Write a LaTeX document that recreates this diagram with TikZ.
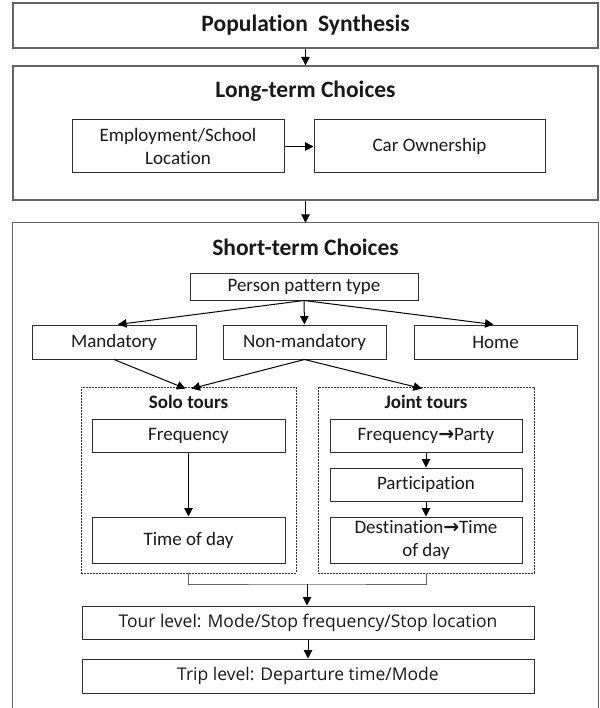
\documentclass[tikz,border=0pt]{standalone}
\usepackage{fontspec}
\setmainfont{Carlito}[Ligatures=NoCommon]
\newfontfamily\osans{Open Sans}
\newfontfamily\arrowfont{DejaVu Sans}
\usetikzlibrary{arrows.meta}
\definecolor{outergray}{RGB}{100,100,100}
\definecolor{boxgray}{RGB}{45,45,45}
\definecolor{txt}{RGB}{25,25,25}
\newcommand{\bodyf}{\fontsize{19}{23}\selectfont}
\newcommand{\titlef}{\fontsize{23.5}{27}\selectfont\bfseries}
\newcommand{\subf}{\fontsize{19}{23}\selectfont\bfseries}
\newcommand{\lowf}{\osans\fontsize{17.5}{21}\selectfont}
\tikzset{
  outerbox/.style={draw=outergray, line width=1.3pt, inner sep=0pt, text=txt},
  outerline/.style={draw=outergray, line width=1.3pt},
  ghost/.style={inner sep=0pt},
  box/.style={draw=boxgray, line width=1pt, inner sep=0pt, align=center, font=\bodyf, text=txt},
  lowbox/.style={box, font=\lowf},
  dotbox/.style={draw=boxgray, line width=0.8pt, dash pattern=on 2pt off 1pt, inner sep=0pt},
  ttl/.style={inner sep=0pt, font=\titlef, text=txt},
  subttl/.style={inner sep=0pt, font=\subf, text=txt},
  arr/.style={draw=black, line width=1pt, -{Triangle[length=8.5pt,width=8.5pt]}},
  plainline/.style={draw=outergray, line width=1pt},
}
\begin{document}
\begin{tikzpicture}[x=1pt,y=-1pt]
\useasboundingbox[fill=white] (0,0) rectangle (599,708);

% outer boxes
\node[outerbox, font=\titlef, minimum width=585pt, minimum height=45pt] (pop) at (305.5,25.5) {Population\hspace{5pt} Synthesis};
\node[outerbox, minimum width=585pt, minimum height=134pt] (long) at (305.5,133) {};
\node[ttl] (longt) at (305.5,91) {Long-term Choices};
\node[ghost, minimum width=585pt, minimum height=485pt] (short) at (305.5,465.5) {};
\draw[outerline] (short.south west) -- (short.north west) -- (short.north east) -- (short.south east);
\node[ttl] (shortt) at (305.5,247) {Short-term Choices};

% long-term
\node[box, minimum width=212pt, minimum height=53pt] (emp) at (178,146.5) {Employment/School\\Location};
\node[box, minimum width=231pt, minimum height=53pt] (car) at (429.5,146.5) {Car Ownership};

% short-term
\node[box, minimum width=228pt, minimum height=27pt] (person) at (304,286.5) {Person pattern type};
\node[box, minimum width=164pt, minimum height=34pt] (mand) at (114,342) {Mandatory};
\node[box, minimum width=163pt, minimum height=34pt] (nonm) at (304.5,342) {Non-mandatory};
\node[box, minimum width=163pt, minimum height=34pt] (home) at (495.5,342) {Home};

\node[dotbox, minimum width=215pt, minimum height=186pt] (solo) at (188.5,480) {};
\node[dotbox, minimum width=216pt, minimum height=186pt] (joint) at (426,480) {};
\node[subttl] (solot) at (188.5,402) {Solo tours};
\node[subttl] (jointt) at (426,402) {Joint tours};

\node[box, minimum width=193pt, minimum height=33pt] (sfreq) at (188.5,435.5) {Frequency};
\node[box, minimum width=193pt, minimum height=46pt] (stod) at (188.5,540) {Time of day};
\node[box, minimum width=192pt, minimum height=33pt] (jfreq) at (426,435.5) {Frequency{\arrowfont\bfseries →}Party};
\node[box, minimum width=192pt, minimum height=33pt] (jpart) at (426,484.5) {Participation};
\node[box, minimum width=192pt, minimum height=46pt] (jdest) at (426,540) {Destination{\arrowfont\bfseries →}Time\\of day};

\node[lowbox, minimum width=452pt, minimum height=33pt] (tour) at (308,622.5) {Tour level: Mode/Stop frequency/Stop location};
\node[lowbox, minimum width=452pt, minimum height=34pt] (trip) at (308,676) {Trip level: Departure time/Mode};

% connectors
\draw[arr] (pop) -- (long);
\draw[arr] (long) -- (short.north);
\draw[arr] (emp) -- (car);
\draw[arr] (person.south) -- ([xshift=4pt]mand.north);
\draw[arr] (person.south) -- (nonm.north);
\draw[arr] (person.south) -- ([xshift=-2pt]home.north);
\draw[arr] (mand.south) -- ([xshift=-3pt,yshift=-2pt]solo.north);
\draw[arr] (nonm.south) -- ([xshift=3pt,yshift=-2pt]solo.north);
\draw[arr] (nonm.south) -- ([xshift=-4pt,yshift=-2pt]joint.north);
\draw[arr] (sfreq) -- (stod);
\draw[arr] (jfreq) -- (jpart);
\draw[arr] (jpart) -- (jdest);
\coordinate (brk) at (307,584);
\draw[plainline] (solo.south) |- (brk) -| (joint.south);
\draw[arr] (brk) -- (tour.north -| brk);
\draw[arr] (tour) -- (trip);
\end{tikzpicture}
\end{document}
